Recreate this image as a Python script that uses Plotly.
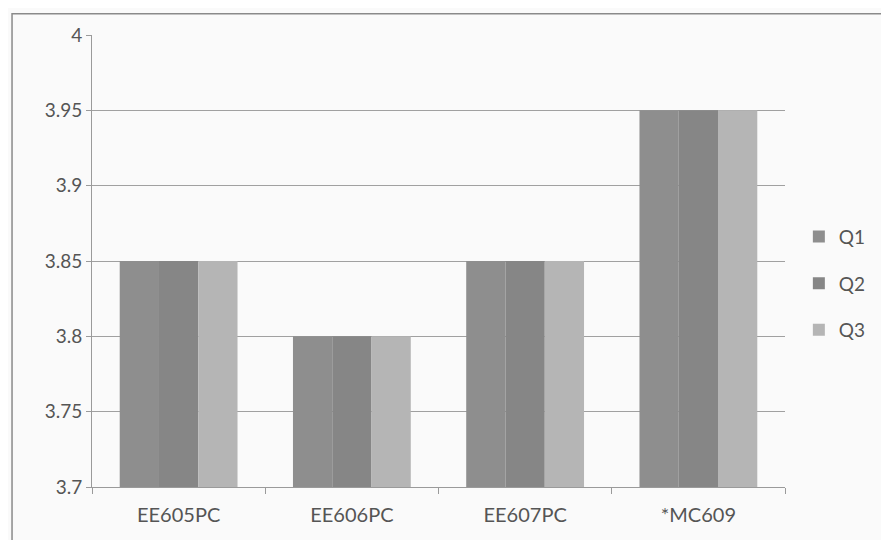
import plotly.graph_objects as go

courses = ["EE605PC", "EE606PC", "EE607PC", "*MC609"]
q1 = [3.85, 3.80, 3.85, 3.95]
q2 = [3.85, 3.80, 3.85, 3.95]
q3 = [3.85, 3.80, 3.85, 3.95]
series = [("Q1", q1, "#8e8e8e"), ("Q2", q2, "#868686"), ("Q3", q3, "#b5b5b5")]
y_ticks = [3.7, 3.75, 3.8, 3.85, 3.9, 3.95, 4]

fig = go.Figure()
for name, vals, color in series:
    fig.add_trace(
        go.Bar(
            x=courses,
            y=vals,
            name=name,
            legendgroup=name,
            marker={"color": color, "line": {"width": 0}},
        )
    )

# page body has an 8px margin, so the figure is sized/offset to match
fig.update_layout(
    width=881,
    height=532,
    paper_bgcolor="#fafafa",
    plot_bgcolor="#fafafa",
    margin={"l": 84, "r": 104, "t": 27, "b": 53},
    font={"family": "Lato", "size": 19, "color": "#555555"},
    barmode="group",
    bargap=0.32,
    bargroupgap=0,
    legend={
        "x": 1.02,
        "y": 0.45,
        "yanchor": "middle",
        "xanchor": "left",
        "font": {"size": 19, "color": "#555555"},
        "tracegroupgap": 19,
        "itemwidth": 30,
        "bgcolor": "rgba(0,0,0,0)",
    },
    xaxis={
        "showline": True,
        "linecolor": "#9a9a9a",
        "ticks": "outside",
        "tickson": "boundaries",
        "ticklen": 6,
        "tickcolor": "#9a9a9a",
        "ticklabelstandoff": 10,
        "tickfont": {"size": 20},
        "showgrid": False,
        "automargin": False,
    },
    yaxis={
        "range": [3.7, 4.0],
        "tickvals": y_ticks,
        "ticktext": [f"{v:g}" for v in y_ticks],
        "showline": True,
        "linecolor": "#9a9a9a",
        "ticks": "outside",
        "ticklen": 5,
        "tickcolor": "#9a9a9a",
        "gridcolor": "#a0a0a0",
        "gridwidth": 1,
        "zeroline": False,
    },
    shapes=[
        {
            "type": "rect",
            "xref": "paper",
            "yref": "paper",
            "x0": -0.1154,
            "x1": 1.16,
            "y0": -0.13,
            "y1": 1.047,
            "line": {"color": "#8a8a8a", "width": 1.5},
        }
    ],
)

fig.write_html("out.html")
